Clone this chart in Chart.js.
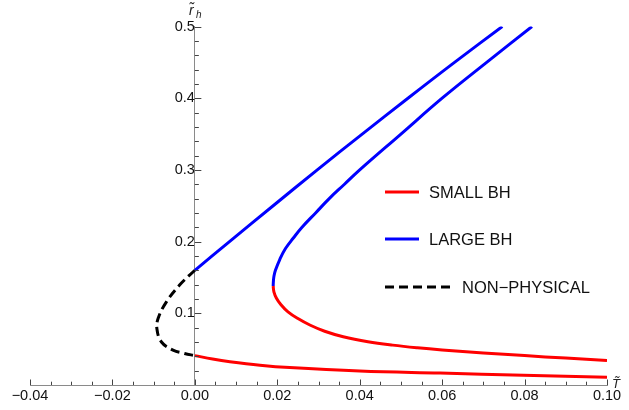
<!DOCTYPE html>
<html><head><meta charset="utf-8">
<script src="https://cdn.jsdelivr.net/npm/chart.js@4/dist/chart.umd.min.js"></script>
<style>html,body{margin:0;padding:0;background:#fff;} #c{display:block;}</style>
</head><body>
<canvas id="c" width="629" height="410"></canvas>
<script>
// ---- tick values / labels ----
const xTickValues = [-0.04, -0.02, 0, 0.02, 0.04, 0.06, 0.08, 0.10];
const xTickLabels = ['\u22120.04', '\u22120.02', '0.00', '0.02', '0.04', '0.06', '0.08', '0.10'];
const yTickValues = [0.1, 0.2, 0.3, 0.4, 0.5];
const yTickLabels = ['0.1', '0.2', '0.3', '0.4', '0.5'];
const legendLabels = ['SMALL BH', 'LARGE BH', 'NON\u2212PHYSICAL'];

// ---- series (T~, r~_h) ----
const largeLeftT  = [0.0000, 0.0084, 0.0190, 0.0297, 0.0406, 0.0517, 0.0630, 0.0746];
const largeLeftR  = [0.160, 0.200, 0.250, 0.300, 0.350, 0.400, 0.450, 0.500];

const largeRightT = [0.0190, 0.01906, 0.0192, 0.01955, 0.0206, 0.02195, 0.0239, 0.0260, 0.0293, 0.0326, 0.0363, 0.0400, 0.0500, 0.0600, 0.0708, 0.0818];
const largeRightR = [0.138, 0.145, 0.152, 0.160, 0.175, 0.190, 0.205, 0.220, 0.240, 0.260, 0.280, 0.300, 0.350, 0.400, 0.450, 0.500];

const smallRightT = [0.0190, 0.01918, 0.0198, 0.0209, 0.0226, 0.0249, 0.0279, 0.0315, 0.0360, 0.0420, 0.0480, 0.0540, 0.0600, 0.0700, 0.0800, 0.0900, 0.1000];
const smallRightR = [0.138, 0.130, 0.121, 0.112, 0.102, 0.093, 0.0837, 0.0750, 0.0673, 0.0604, 0.0556, 0.0519, 0.0489, 0.0447, 0.0410, 0.0375, 0.0342];

const smallLeftT  = [0.0000, 0.0043, 0.0085, 0.0158, 0.0230, 0.0400, 0.0595, 0.0797, 0.1000];
const smallLeftR  = [0.0410, 0.0362, 0.0325, 0.0276, 0.0243, 0.0196, 0.0166, 0.0136, 0.0108];

const nonPhysT    = [0.0000, -0.0036, -0.0069, -0.0089, -0.0092, -0.0081, -0.0053, -0.0025, 0.0000];
const nonPhysR    = [0.160, 0.140, 0.116, 0.093, 0.078, 0.060, 0.0487, 0.0440, 0.0410];

const pts = (t, r) => t.map((v, i) => ({x: v, y: r[i]}));

const RED = '#ff0000', BLUE = '#0000ff', BLACK = '#000000';
const FONT = '"Liberation Sans", Arial, sans-serif';

const datasets = [
  {label: legendLabels[0], data: pts(smallLeftT, smallLeftR), borderColor: RED},
  {label: legendLabels[0], data: pts(smallRightT, smallRightR), borderColor: RED},
  {label: legendLabels[1], data: pts(largeLeftT, largeLeftR), borderColor: BLUE},
  {label: legendLabels[1], data: pts(largeRightT, largeRightR), borderColor: BLUE},
  {label: legendLabels[2], data: pts(nonPhysT, nonPhysR), borderColor: BLACK, borderDash: [9, 5]},
].map(d => Object.assign({showLine: true, pointRadius: 0, borderWidth: 3, tension: 0.4, fill: false}, d));

const decor = {
  id: 'decor',
  afterDatasetsDraw(chart) {
    const ctx = chart.ctx, xs = chart.scales.x, ys = chart.scales.y;
    const x0 = xs.getPixelForValue(0), y0 = ys.getPixelForValue(0);
    ctx.save();
    // tick marks (inside)
    ctx.strokeStyle = '#444';
    ctx.lineWidth = 1;
    ctx.beginPath();
    for (let k = -8; k <= 20; k++) {
      const v = k * 0.005;
      const px = Math.round(xs.getPixelForValue(v)) + 0.5;
      const len = (k % 4 === 0) ? 5.5 : 3.3;
      ctx.moveTo(px, y0); ctx.lineTo(px, y0 - len);
    }
    for (let k = 1; k <= 25; k++) {
      const v = k * 0.02;
      const py = Math.round(ys.getPixelForValue(v)) + 0.5;
      const len = (k % 5 === 0) ? 6.5 : 4;
      ctx.moveTo(x0, py); ctx.lineTo(x0 + len, py);
    }
    ctx.stroke();

    // axis titles
    ctx.fillStyle = '#222';
    ctx.textBaseline = 'alphabetic';
    ctx.textAlign = 'left';
    ctx.font = 'italic 14px ' + FONT;
    ctx.fillText('r\u0303', 189, 15);
    ctx.font = 'italic 10px ' + FONT;
    ctx.fillText('h', 196, 18);
    ctx.font = 'italic 13px ' + FONT;
    ctx.fillText('T\u0303', 612, 388);

    // legend
    const rows = [
      {ds: chart.data.datasets[0], y: 192, x1: 419, tx: 429},
      {ds: chart.data.datasets[2], y: 239, x1: 419, tx: 429},
      {ds: chart.data.datasets[4], y: 287, x1: 450, tx: 462},
    ];
    ctx.font = '16.5px ' + FONT;
    ctx.textBaseline = 'middle';
    rows.forEach(r => {
      ctx.strokeStyle = r.ds.borderColor;
      ctx.lineWidth = 3;
      ctx.setLineDash(r.ds.borderDash || []);
      ctx.beginPath();
      ctx.moveTo(385, r.y); ctx.lineTo(r.x1, r.y);
      ctx.stroke();
      ctx.setLineDash([]);
      ctx.fillStyle = '#111';
      ctx.fillText(r.ds.label, r.tx, r.y + 1);
    });
    ctx.restore();
  }
};

new Chart(document.getElementById('c'), {
  type: 'scatter',
  data: {datasets},
  options: {
    responsive: false,
    devicePixelRatio: 1,
    animation: false,
    layout: {padding: {left: 30, right: 22, top: 26.5, bottom: 3.6}},
    plugins: {legend: {display: false}, tooltip: {enabled: false}},
    scales: {
      x: {
        type: 'linear', position: 'bottom', min: -0.04, max: 0.10,
        grid: {display: false, drawTicks: false},
        border: {display: true, color: '#8a8a8a', width: 1},
        afterBuildTicks: s => { s.ticks = xTickValues.map(v => ({value: v})); },
        ticks: {
          padding: 2, color: '#111', font: {family: FONT, size: 14.5}, maxRotation: 0, autoSkip: false,
          callback: (v) => { const i = xTickValues.findIndex(t => Math.abs(t - v) < 1e-9); return i >= 0 ? xTickLabels[i] : ''; }
        }
      },
      y: {
        type: 'linear', position: {x: 0}, min: 0, max: 0.5,
        grid: {display: false, drawTicks: false},
        border: {display: true, color: '#8a8a8a', width: 1},
        afterBuildTicks: s => { s.ticks = yTickValues.map(v => ({value: v})); },
        ticks: {
          padding: 5, color: '#111', font: {family: FONT, size: 14.5}, autoSkip: false,
          callback: (v) => { const i = yTickValues.findIndex(t => Math.abs(t - v) < 1e-9); return i >= 0 ? yTickLabels[i] : ''; }
        }
      }
    }
  },
  plugins: [decor]
});
</script>
</body></html>
